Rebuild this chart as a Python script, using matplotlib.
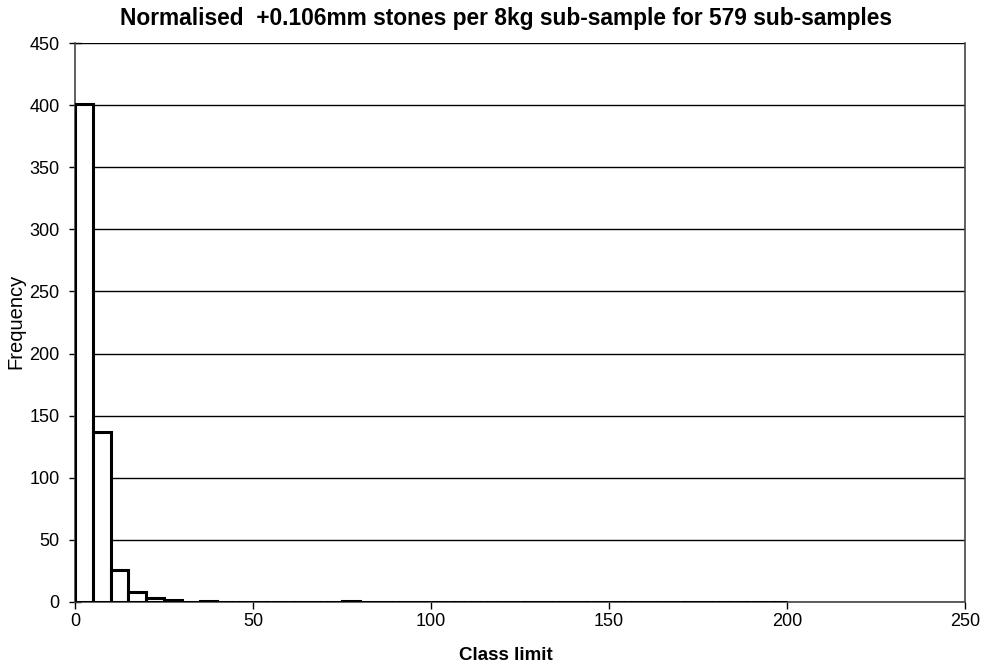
import matplotlib
matplotlib.use("Agg")
import matplotlib.pyplot as plt
import numpy as np

plt.rcParams['font.family'] = ['Liberation Sans', 'DejaVu Sans']

# Class limits (left edges of bins, width 5) and frequencies
bin_width = 5
bin_starts = list(range(0, 200, 5))
freqs = [401, 137, 26, 8, 3, 2, 0, 1, 0, 0,
         0, 0, 0, 0, 0, 1, 0, 0, 0, 0,
         0, 0, 0, 0, 0, 0, 0, 0, 0, 0,
         0, 0, 0, 0, 0, 0, 0, 0, 0, 0]
x_ticks = [0, 50, 100, 150, 200, 250]
y_ticks = list(range(0, 451, 50))

title = "Normalised  +0.106mm stones per 8kg sub-sample for 579 sub-samples"

fig = plt.figure(figsize=(9.87, 6.68), dpi=100)
ax = fig.add_axes([75/987, 1-602/668, (965-75)/987, (602-43)/668])

ax.bar(bin_starts, freqs, width=bin_width, align='edge', color='white',
       edgecolor='black', linewidth=2.2, zorder=3)

ax.set_xlim(0, 250)
ax.set_ylim(0, 450)
ax.set_xticks(x_ticks)
ax.set_yticks(y_ticks)
ax.yaxis.grid(True, color='black', linewidth=1.0, zorder=0)
ax.set_axisbelow(True)
for s in ['left', 'right', 'top', 'bottom']:
    ax.spines[s].set_color('#444444')
    ax.spines[s].set_linewidth(1.2)
ax.spines['top'].set_visible(False)
ax.tick_params(axis='y', direction='inout', length=8, width=1, labelsize=13, pad=7)
ax.tick_params(axis='x', direction='out', length=5, width=1, labelsize=13, pad=3)

fig.text(506/987, 1 - 18/668, title, ha='center', va='center',
         fontsize=16.4, fontweight='bold')
fig.text(506/987, 1 - 655/668, "Class limit", ha='center', va='center',
         fontsize=13.5, fontweight='bold')
fig.text(16/987, 1 - 321/668, "Frequency", ha='center', va='center',
         fontsize=14.5, rotation=90)

fig.savefig("out.png", dpi=100)
